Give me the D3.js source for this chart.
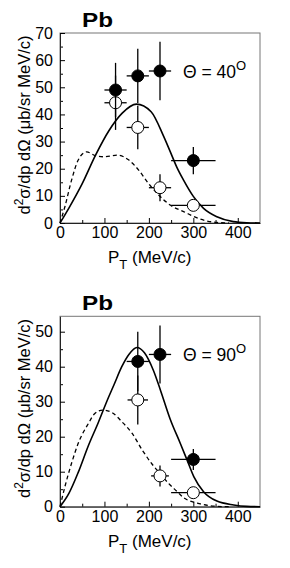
<!DOCTYPE html>
<html>
<head>
<meta charset="utf-8">
<script src="https://cdn.jsdelivr.net/npm/d3@7"></script>
<style>
  body { margin: 0; background: #fff; }
  svg { display: block; font-family: "Liberation Sans", Arial, Helvetica, sans-serif; }
  .tick text { font-size: 16px; fill: #000; }
</style>
</head>
<body>
<div id="chart"></div>
<script>
// x ticks (MeV/c)
var ptTicks = [0, 100, 200, 300, 400];

// Theta = 40 deg panel
var pt40 = [125, 175, 225, 300];
var ptErr40 = [25, 25, 25, 50];
var filled40 = [49, 54.2, 56, 23];
var filled40Err = [10, 10, 10.8, 5];
var open40 = [44.3, 35.2, 13, 6.5];
var open40Err = [10, 8, 5, 1];
var solid40 = [[0,0],[20,5.5],[50,14.5],[80,25],[110,34],[140,40.5],[172,43.8],[205,41],[233,32],
  [248,26.3],[263,20.5],[278,15.8],[300,9.8],[323,5.4],[353,2.3],[390,0.5],[420,0.1],[450,0]];
var dashed40 = [[0,0],[11,6],[26,15.8],[41,23.2],[60,26.2],[80,24.8],[100,24.4],[130,25],[154,23.3],
  [177,19.5],[199,14.6],[222,10.3],[248,6.6],[278,4.2],[316,1.4],[353,0.2],[380,0]];

// Theta = 90 deg panel
var pt90 = [175, 225, 300];
var ptErr90 = [25, 25, 50];
var filled90 = [41.5, 43.5, 13.5];
var filled90Err = [8.5, 8.3, 3];
var open90 = [30.5, 8.8, 4.0];
var open90Err = [7, 3, 1];
var solid90 = [[0,0],[20,3.8],[41,9.8],[64,17.5],[86,24],[105,30],[122,35],[139,40],[155,43.5],[173,45.5],
  [190,44],[210,39],[226,33.3],[248,25],[271,18],[286,13.3],[301,8.6],[323,4.3],[353,1.6],[391,0.5],[420,0.1],[450,0]];
var dashed90 = [[0,0],[11,5.7],[26,12.4],[41,18.1],[64,23.8],[79,26.7],[96,27.6],[117,26.9],[139,24.3],
  [162,21],[185,16.2],[207,12.2],[225,9.5],[244,6.7],[262,4.5],[278,2.6],[316,0.8],[353,0.1],[380,0]];

var svg = d3.select("#chart").append("svg")
  .attr("width", 290)
  .attr("height", 568);

function drawPanel(cfg) {
  var x = d3.scaleLinear().domain([0, 450]).range([60, 260]);
  var y = d3.scaleLinear().domain([0, cfg.ymax]).range([cfg.y0, cfg.ytop]);
  var g = svg.append("g");

  // frame
  g.append("rect")
    .attr("x", 60).attr("y", cfg.ytop)
    .attr("width", 200).attr("height", cfg.y0 - cfg.ytop)
    .attr("fill", "none").attr("stroke", "#777").attr("stroke-width", 1);

  // minor ticks
  var minorX = d3.range(50, 450, 100);
  var minorY = d3.range(5, cfg.ymax, 10);
  g.append("g").attr("transform", "translate(0," + cfg.y0 + ")")
    .call(d3.axisBottom(x).tickValues(minorX).tickSize(-3).tickSizeOuter(0).tickFormat(""))
    .call(s => s.select(".domain").remove());
  g.append("g").attr("transform", "translate(60,0)")
    .call(d3.axisLeft(y).tickValues(minorY).tickSize(-3).tickSizeOuter(0).tickFormat(""))
    .call(s => s.select(".domain").remove());

  // major axes
  g.append("g").attr("transform", "translate(0," + cfg.y0 + ")")
    .call(d3.axisBottom(x).tickValues(ptTicks).tickSize(-5).tickSizeOuter(0).tickPadding(4))
    .call(s => s.select(".domain").attr("stroke", "#222"));
  g.append("g").attr("transform", "translate(60,0)")
    .call(d3.axisLeft(y).tickValues(cfg.yticks).tickSize(-5).tickSizeOuter(0).tickPadding(7))
    .call(s => s.select(".domain").attr("stroke", "#222"));

  // curves
  var line = d3.line().x(d => x(d[0])).y(d => y(d[1])).curve(d3.curveMonotoneX);
  g.append("path").datum(cfg.dashed)
    .attr("d", line).attr("fill", "none").attr("stroke", "#000")
    .attr("stroke-width", 1.3).attr("stroke-dasharray", "4,3");
  g.append("path").datum(cfg.solid)
    .attr("d", line).attr("fill", "none").attr("stroke", "#000").attr("stroke-width", 1.6);

  // error bars + points
  function points(vals, errs, xerr, filled) {
    var data = cfg.pt.map((p, i) => ({ p: p, v: vals[i], e: errs[i], xe: xerr[i] }));
    var pg = g.append("g");
    pg.selectAll(".eh").data(data).enter().append("line")
      .attr("x1", d => x(d.p - d.xe)).attr("x2", d => x(d.p + d.xe))
      .attr("y1", d => y(d.v)).attr("y2", d => y(d.v))
      .attr("stroke", "#000").attr("stroke-width", 1.3);
    pg.selectAll(".ev").data(data).enter().append("line")
      .attr("x1", d => x(d.p)).attr("x2", d => x(d.p))
      .attr("y1", d => y(d.v - d.e)).attr("y2", d => y(d.v + d.e))
      .attr("stroke", "#000").attr("stroke-width", 1.3);
    pg.selectAll("circle").data(data).enter().append("circle")
      .attr("cx", d => x(d.p)).attr("cy", d => y(d.v)).attr("r", 6)
      .attr("fill", filled ? "#000" : "#fff").attr("stroke", "#000").attr("stroke-width", 1);
  }
  points(cfg.open, cfg.openErr, cfg.openXErr, false);
  points(cfg.filled, cfg.filledErr, cfg.ptErr, true);

  // title
  g.append("text")
    .attr("x", 82).attr("y", cfg.ytop - 6)
    .attr("font-size", 21).attr("font-weight", "bold")
    .attr("textLength", 31).attr("lengthAdjust", "spacingAndGlyphs")
    .text("Pb");

  // angle label
  var ang = g.append("text")
    .attr("x", 183).attr("y", cfg.ytop + 45)
    .attr("font-size", 17.5);
  ang.append("tspan").text("\u0398 = " + cfg.angle);
  ang.append("tspan").attr("dy", -8).attr("font-size", 13).text("O");

  // x title
  var xt = g.append("text")
    .attr("x", 108).attr("y", cfg.y0 + 40)
    .attr("font-size", 17);
  xt.append("tspan").text("P");
  xt.append("tspan").attr("dy", 6).attr("font-size", 13).text("T");
  xt.append("tspan").attr("dy", -6).text(" (MeV/c)");

  // y title
  var yt = g.append("text")
    .attr("transform", "translate(30," + ((cfg.y0 + cfg.ytop) / 2 - 3) + ") rotate(-90)")
    .attr("text-anchor", "middle")
    .attr("font-size", 16.5);
  yt.append("tspan").text("d");
  yt.append("tspan").attr("dy", -7).attr("font-size", 12).text("2");
  yt.append("tspan").attr("dy", 7).text("\u03c3/dp d\u03a9 (\u03bcb/sr MeV/c)");
}

drawPanel({
  ymax: 70, y0: 223, ytop: 33, yticks: d3.range(0, 71, 10), angle: "40",
  pt: pt40, filled: filled40, filledErr: filled40Err, open: open40, openErr: open40Err,
  ptErr: ptErr40, openXErr: ptErr40, solid: solid40, dashed: dashed40
});

drawPanel({
  ymax: 54.4, y0: 506.7, ytop: 316.3, yticks: d3.range(0, 51, 10), angle: "90",
  pt: pt90, filled: filled90, filledErr: filled90Err, open: open90, openErr: open90Err,
  ptErr: ptErr90, openXErr: [23, 20, 50], solid: solid90, dashed: dashed90
});
</script>
</body>
</html>
